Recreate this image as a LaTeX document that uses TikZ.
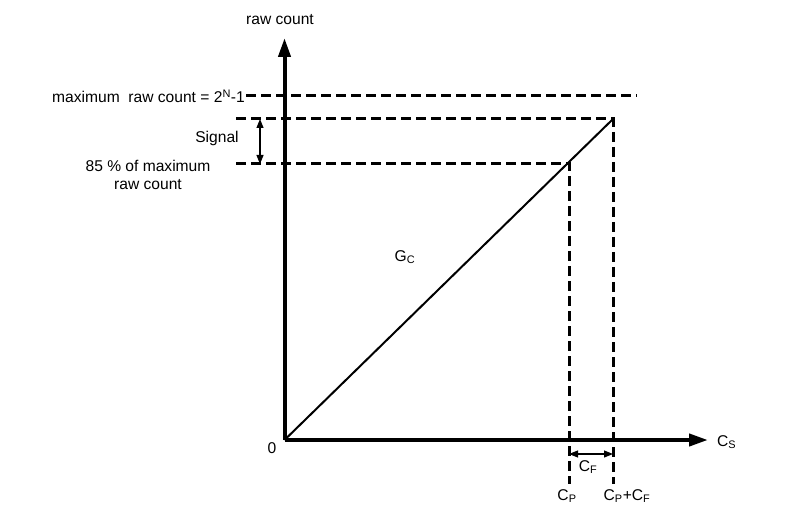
\documentclass[tikz,border=0pt]{standalone}
\usepackage{fontspec}
\setmainfont{Liberation Sans}
\usetikzlibrary{arrows.meta}
\begin{document}
\begin{tikzpicture}[x=1pt,y=-1pt,
  axis/.style={line width=4pt,-{Triangle[length=19pt,width=12pt]}},
  dashline/.style={line width=3pt,dash pattern=on 10pt off 5pt},
  dimarrow/.style={line width=1.1pt,{Triangle[length=9pt,width=7pt]}-{Triangle[length=9pt,width=7pt]}},
  lbl/.style={font=\fontsize{15.6}{17.5}\selectfont,inner sep=1pt}]
\useasboundingbox (0,0) rectangle (810,526);
% key points
\coordinate (O) at (284.5,440);
\coordinate (ytip) at (284.5,38);
\coordinate (xtip) at (708,440);
\coordinate (top) at (613,119);
\coordinate (p85) at (569,164);
\coordinate (maxend) at (637,96);
\coordinate (l119) at (236,119);
\coordinate (l165) at (236,164);
\coordinate (vb1) at (569,484);
\coordinate (vb2) at (613,484);
\coordinate (s1) at (260,119);
\coordinate (s2) at (260,164);
\coordinate (f1) at (569,454);
\coordinate (f2) at (613,454);
% axes
\draw[axis] (O) -- (ytip);
\draw[axis] (O) -- (xtip);
% labels
\node[lbl] (ylab) at (280,20) {raw count};
\node[lbl,anchor=west] (xlab) at (716,442) {C\textsubscript{S}};
\node[lbl] (zero) at (272,448) {0};
\node[lbl,anchor=east] (maxlab) at (246,96) {maximum\ \ raw count = 2\textsuperscript{N}-1};
\node[lbl] (siglab) at (217,138) {Signal};
\node[lbl,align=center] (p85lab) at (148,175) {85 \% of maximum\\raw count};
\node[lbl] (gc) at (405,257) {G\textsubscript{C}};
\node[lbl] (cf) at (588,467) {C\textsubscript{F}};
\node[lbl] (cp) at (567,496) {C\textsubscript{P}};
\node[lbl] (cpcf) at (627,496) {C\textsubscript{P}+C\textsubscript{F}};
% dashed lines
\draw[dashline] (maxlab.east) -- (maxend);
\draw[dashline] (l119) -- (top) -- (vb2);
\draw[dashline] (l165) -- (p85) -- (vb1);
% diagonal
\draw[line width=2pt] (O) -- (top);
% dimension arrows
\draw[dimarrow] (s1) -- (s2);
\draw[dimarrow] (f1) -- (f2);
\end{tikzpicture}
\end{document}
